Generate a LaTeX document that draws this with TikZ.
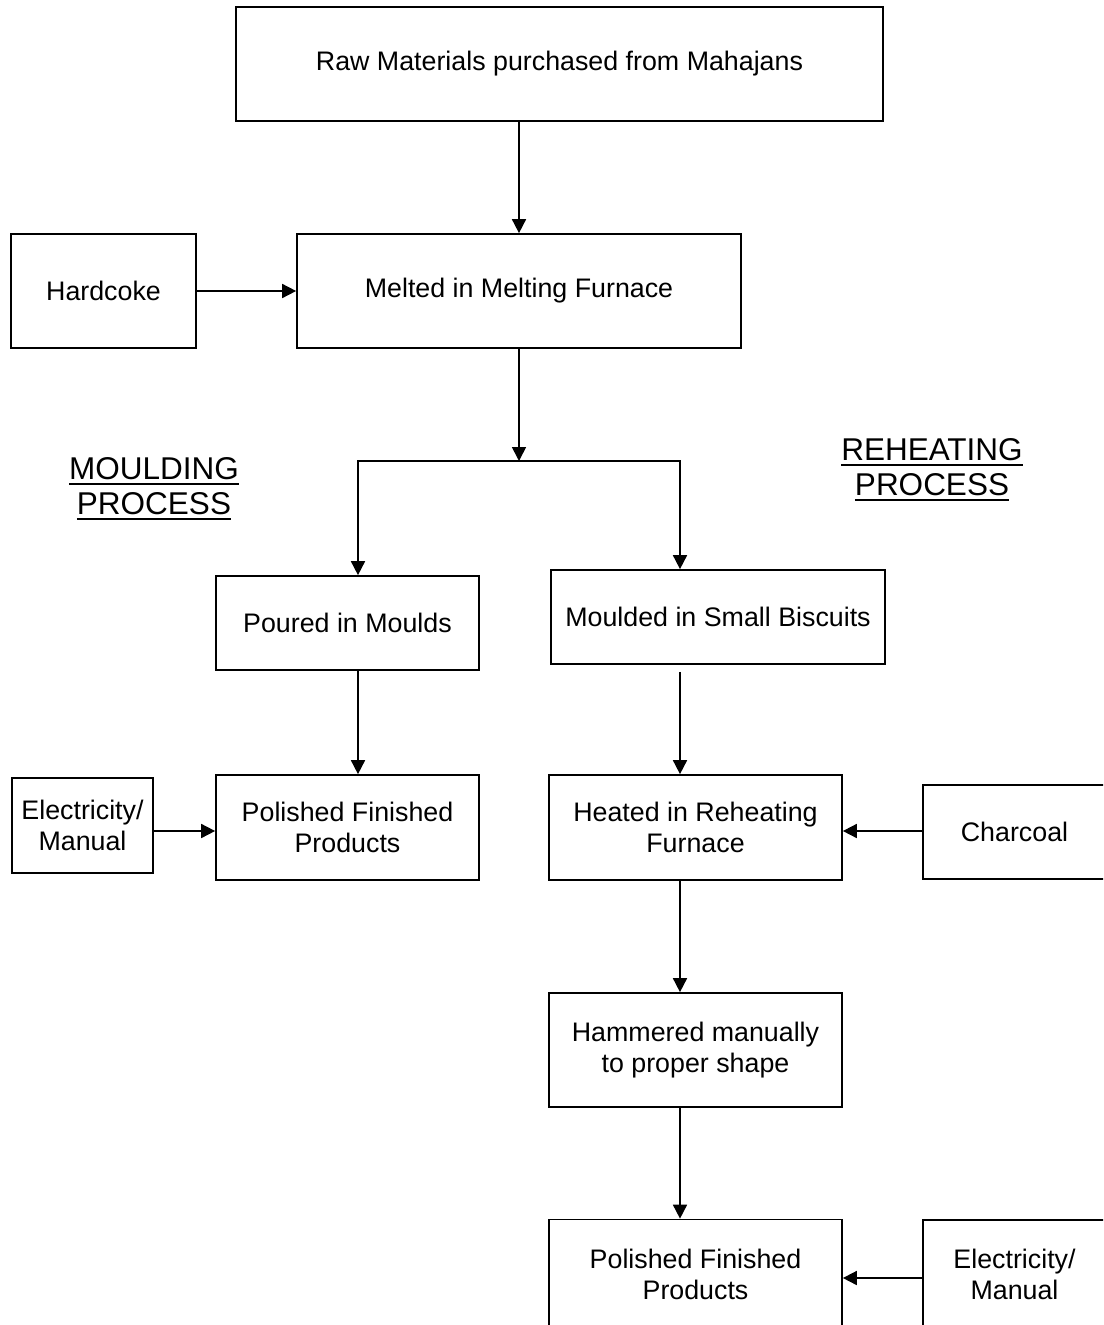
\documentclass[tikz,border=0pt]{standalone}
\usepackage{fontspec}
\setmainfont{Liberation Sans}
\usetikzlibrary{arrows.meta}

% underline a heading word with a heavier rule
\newcommand\headrule[1]{\setbox0\hbox{#1}\rlap{\rule[-5.5pt]{\wd0}{2.2pt}}\box0}

\tikzset{
  procbox/.style={draw, line width=1.7pt, rectangle, inner sep=0pt, align=center,
    font=\fontsize{26.8}{31}\selectfont},
  heading/.style={align=center, inner sep=0pt, font=\fontsize{31.5}{35}\selectfont},
  arr/.style={line width=1.7pt, -{Triangle[length=14pt,width=14pt]}},
  link/.style={line width=1.7pt}
}

\begin{document}
\begin{tikzpicture}[x=1pt,y=-1pt]
  \clip (0,0) rectangle (1103,1325);
  \fill[white] (0,0) rectangle (1103,1325);

  % process boxes
  \node[procbox, minimum width=647pt, minimum height=114pt] (raw) at (559.5,64) {Raw Materials purchased from Mahajans};
  \node[procbox, minimum width=185pt, minimum height=114pt] (hard) at (103.5,291) {Hardcoke};
  \node[procbox, minimum width=444pt, minimum height=114pt] (melt) at (519,291) {Melted in Melting Furnace};
  \node[procbox, minimum width=263pt, minimum height=94pt] (pour) at (347.5,623) {Poured in Moulds};
  \node[procbox, minimum width=334pt, minimum height=94pt] (bisc) at (718,617) {Moulded in Small Biscuits};
  \node[procbox, minimum width=263pt, minimum height=105pt] (polL) at (347.5,827.5) {Polished Finished\\Products};
  \node[procbox, minimum width=141pt, minimum height=95pt] (elecL) at (82.5,825.5) {Electricity/\\Manual};
  \node[procbox, minimum width=293pt, minimum height=105pt] (heat) at (695.5,827.5) {Heated in Reheating\\Furnace};
  \node[procbox, minimum width=183pt, minimum height=94pt] (coal) at (1014.5,832) {Charcoal};
  \node[procbox, minimum width=293pt, minimum height=114pt] (hamm) at (695.5,1050) {Hammered manually\\to proper shape};
  \node[procbox, minimum width=293pt, minimum height=109pt] (polR) at (695.5,1274) {Polished Finished\\Products};
  \node[procbox, minimum width=183pt, minimum height=108pt] (elecR) at (1014.5,1274) {Electricity/\\Manual};

  % headings
  \node[heading] (hmould) at (154,489) {\headrule{MOULDING}\\\headrule{PROCESS}};
  \node[heading] (hreheat) at (932,470) {\headrule{REHEATING}\\\headrule{PROCESS}};

  % guide coordinates for the connector lanes
  \coordinate (split) at (519,461);
  \coordinate (laneL) at (358,461);
  \coordinate (laneR) at (680,461);
  \coordinate (rowL) at (0,831);
  \coordinate (rowR) at (0,1278);

  % connectors
  \draw[arr] (raw.south -| melt.north) -- (melt.north);
  \draw[arr] (hard.east) -- (melt.west);
  \draw[arr] (melt.south) -- (split);
  \draw[arr] (laneR) -- (laneL) -- (pour.north -| laneL);
  \draw[arr] (laneL) -- (laneR) -- (bisc.north -| laneR);
  \draw[arr] (pour.south -| laneL) -- (polL.north -| laneL);
  \draw[arr] (elecL.east |- rowL) -- (polL.west |- rowL);
  \draw[arr] ([yshift=-7pt]bisc.south -| laneR) -- (heat.north -| laneR);
  \draw[arr] (coal.west |- rowL) -- (heat.east |- rowL);
  \draw[arr] (heat.south -| laneR) -- (hamm.north -| laneR);
  \draw[arr] (hamm.south -| laneR) -- (polR.north -| laneR);
  \draw[arr] (elecR.west |- rowR) -- (polR.east |- rowR);
\end{tikzpicture}
\end{document}
